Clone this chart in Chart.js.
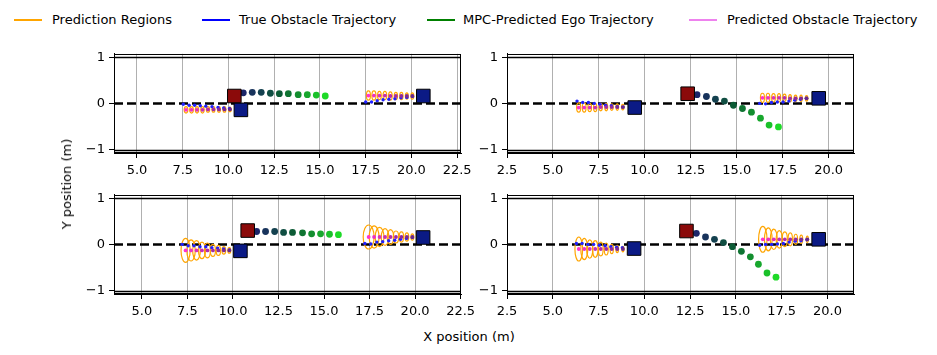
<!DOCTYPE html>
<html>
<head>
<meta charset="utf-8">
<script src="https://cdn.jsdelivr.net/npm/chart.js@4.4.1/dist/chart.umd.min.js"></script>
<style>
  html, body { margin: 0; padding: 0; background: #fff; }
  #fig { position: relative; width: 937px; height: 355px; overflow: hidden;
         font-family: "DejaVu Sans", sans-serif; color: #000; }
  #fig canvas { position: absolute; }
  .sw { position: absolute; top: 19px; width: 28px; height: 2px; }
  .lt { position: absolute; top: 12px; font-size: 13px; line-height: 16px; white-space: nowrap; }
  .ax { position: absolute; font-size: 13px; line-height: 16px; white-space: nowrap; }
</style>
</head>
<body>
<div id="fig">
  <div class="sw" style="left:14px;background:#ffa500"></div><div class="lt" style="left:52px">Prediction Regions</div>
  <div class="sw" style="left:202px;background:#0000ff"></div><div class="lt" style="left:239px">True Obstacle Trajectory</div>
  <div class="sw" style="left:427px;background:#008000"></div><div class="lt" style="left:463px">MPC-Predicted Ego Trajectory</div>
  <div class="sw" style="left:689px;background:#ee82ee"></div><div class="lt" style="left:727px">Predicted Obstacle Trajectory</div>

  <canvas id="tl"></canvas>
  <canvas id="tr"></canvas>
  <canvas id="bl"></canvas>
  <canvas id="br"></canvas>

  <div class="ax" style="left:67px;top:184px;transform:translate(-50%,-50%) rotate(-90deg)">Y position (m)</div>
  <div class="ax" style="left:469px;top:337px;transform:translate(-50%,-50%)">X position (m)</div>
</div>

<script>
/* ── DATA ── */
const xTicksLeft = [5, 7.5, 10, 12.5, 15, 17.5, 20, 22.5];
const xTicksRight = [2.5, 5, 7.5, 10, 12.5, 15, 17.5, 20];
const yTicks = [-1, 0, 1];
const laneBounds = [-1, 1];

// top-left
const tlEgoX = [10.81, 11.30, 11.79, 12.29, 12.78, 13.27, 13.81, 14.31, 14.80, 15.29];
const tlEgoY = [0.23, 0.24, 0.24, 0.22, 0.21, 0.21, 0.19, 0.19, 0.18, 0.16];
const tlEgoNow = [10.32, 0.16];
const tlObsNowX = [10.68, 20.65];
const tlObsNowY = [-0.14, 0.16];
const tlTrueX = [7.53, 7.85, 8.15, 8.46, 8.76, 9.10, 9.43, 9.74, 10.06, 17.50, 17.82, 18.13, 18.45, 18.77, 19.10, 19.43, 19.75, 20.06];
const tlTrueY = [-0.02, -0.04, -0.04, -0.05, -0.06, -0.07, -0.09, -0.10, -0.11, 0.03, 0.03, 0.06, 0.08, 0.09, 0.10, 0.12, 0.13, 0.15];
const tlPredX = [7.68, 7.98, 8.28, 8.58, 8.88, 9.18, 9.48, 9.78, 10.08, 17.65, 17.95, 18.25, 18.55, 18.85, 19.15, 19.45, 19.75, 20.05];
const tlPredY = [-0.14, -0.14, -0.14, -0.14, -0.13, -0.13, -0.13, -0.13, -0.13, 0.17, 0.17, 0.17, 0.17, 0.16, 0.16, 0.16, 0.16, 0.16];
const tlRegionRx = [0.10, 0.10, 0.09, 0.09, 0.09, 0.08, 0.08, 0.08, 0.07, 0.11, 0.11, 0.10, 0.10, 0.10, 0.09, 0.09, 0.08, 0.08];
const tlRegionRy = [0.07, 0.07, 0.07, 0.07, 0.06, 0.06, 0.06, 0.06, 0.05, 0.10, 0.10, 0.09, 0.09, 0.09, 0.08, 0.08, 0.07, 0.07];

// top-right
const trEgoX = [12.84, 13.35, 13.84, 14.33, 14.82, 15.31, 15.80, 16.29, 16.76, 17.27];
const trEgoY = [0.19, 0.15, 0.09, 0.05, -0.04, -0.11, -0.19, -0.32, -0.47, -0.51];
const trEgoNow = [12.33, 0.21];
const trObsNowX = [9.45, 19.46];
const trObsNowY = [-0.09, 0.11];
const trTrueX = [6.31, 6.62, 6.93, 7.25, 7.56, 7.87, 8.18, 8.50, 8.81, 16.25, 16.57, 16.89, 17.21, 17.52, 17.84, 18.16, 18.47, 18.79];
const trTrueY = [0.05, 0.02, 0.02, 0.00, -0.02, -0.04, -0.05, -0.07, -0.08, 0.00, -0.01, 0.02, 0.03, 0.03, 0.05, 0.07, 0.09, 0.11];
const trPredX = [6.40, 6.70, 7.00, 7.30, 7.60, 7.90, 8.20, 8.50, 8.80, 16.40, 16.70, 17.00, 17.30, 17.60, 17.90, 18.20, 18.50, 18.80];
const trPredY = [-0.09, -0.09, -0.09, -0.09, -0.08, -0.08, -0.08, -0.08, -0.08, 0.12, 0.12, 0.12, 0.12, 0.12, 0.11, 0.11, 0.11, 0.11];
const trRegionRx = [0.11, 0.10, 0.10, 0.09, 0.09, 0.08, 0.08, 0.07, 0.07, 0.11, 0.10, 0.10, 0.09, 0.09, 0.08, 0.08, 0.07, 0.07];
const trRegionRy = [0.10, 0.10, 0.09, 0.09, 0.08, 0.08, 0.07, 0.07, 0.06, 0.10, 0.10, 0.09, 0.09, 0.08, 0.08, 0.07, 0.07, 0.06];

// bottom-left
const blEgoX = [11.30, 11.79, 12.29, 12.78, 13.27, 13.82, 14.32, 14.81, 15.30, 15.79];
const blEgoY = [0.28, 0.28, 0.28, 0.26, 0.26, 0.25, 0.23, 0.23, 0.22, 0.21];
const blEgoNow = [10.81, 0.30];
const blObsNowX = [10.41, 20.44];
const blObsNowY = [-0.14, 0.15];
const blTrueX = [7.21, 7.54, 7.86, 8.19, 8.51, 8.84, 9.16, 9.49, 9.81, 17.24, 17.57, 17.90, 18.22, 18.55, 18.88, 19.20, 19.53, 19.85];
const blTrueY = [0.00, -0.03, -0.03, -0.05, -0.05, -0.07, -0.08, -0.10, -0.12, 0.02, 0.01, 0.05, 0.06, 0.08, 0.09, 0.11, 0.13, 0.15];
const blPredX = [7.40, 7.70, 8.00, 8.30, 8.60, 8.90, 9.20, 9.50, 9.80, 17.45, 17.75, 18.05, 18.35, 18.65, 18.95, 19.25, 19.55, 19.85];
const blPredY = [-0.13, -0.13, -0.13, -0.13, -0.13, -0.13, -0.13, -0.13, -0.13, 0.16, 0.16, 0.16, 0.16, 0.16, 0.16, 0.16, 0.16, 0.16];
const blRegionRx = [0.25, 0.23, 0.21, 0.19, 0.16, 0.14, 0.12, 0.10, 0.08, 0.30, 0.27, 0.24, 0.21, 0.18, 0.15, 0.12, 0.10, 0.08];
const blRegionRy = [0.26, 0.23, 0.21, 0.18, 0.16, 0.13, 0.11, 0.08, 0.06, 0.26, 0.24, 0.21, 0.18, 0.16, 0.13, 0.11, 0.09, 0.07];

// bottom-right
const brEgoX = [12.84, 13.34, 13.83, 14.32, 14.81, 15.30, 15.79, 16.23, 16.70, 17.19];
const brEgoY = [0.24, 0.16, 0.11, 0.04, -0.05, -0.15, -0.27, -0.43, -0.62, -0.71];
const brEgoNow = [12.30, 0.29];
const brObsNowX = [9.44, 19.52];
const brObsNowY = [-0.09, 0.11];
const brTrueX = [6.29, 6.60, 6.92, 7.23, 7.54, 7.86, 8.17, 8.49, 8.80, 16.30, 16.62, 16.95, 17.27, 17.59, 17.91, 18.24, 18.56, 18.88];
const brTrueY = [0.02, 0.02, 0.00, 0.00, -0.02, -0.03, -0.05, -0.06, -0.07, -0.02, 0.00, 0.00, 0.01, 0.02, 0.05, 0.07, 0.08, 0.10];
const brPredX = [6.42, 6.72, 7.02, 7.32, 7.62, 7.92, 8.22, 8.52, 8.83, 16.47, 16.77, 17.07, 17.37, 17.67, 17.97, 18.27, 18.57, 18.90];
const brPredY = [-0.10, -0.10, -0.10, -0.10, -0.10, -0.10, -0.10, -0.10, -0.10, 0.11, 0.11, 0.11, 0.11, 0.11, 0.11, 0.11, 0.11, 0.11];
const brRegionRx = [0.21, 0.19, 0.17, 0.15, 0.13, 0.11, 0.09, 0.07, 0.06, 0.23, 0.21, 0.19, 0.17, 0.14, 0.12, 0.10, 0.08, 0.06];
const brRegionRy = [0.26, 0.23, 0.20, 0.18, 0.15, 0.13, 0.10, 0.08, 0.06, 0.28, 0.25, 0.22, 0.19, 0.16, 0.14, 0.11, 0.09, 0.07];

/* ── LAYOUT ── */
const PLOT_W = 347, PLOT_H = 101;
const Y_AXIS_W = 50, X_AXIS_H = 30, PAD_T = 10, PAD_R = 25;
const tickFont = { family: "DejaVu Sans", size: 13 };

const panels = [
  { id: "tl", left: 114, top: 52, xMin: 3.743, xMax: 22.71, xTicks: xTicksLeft,
    egoX: tlEgoX, egoY: tlEgoY, egoNow: tlEgoNow, obsX: tlObsNowX, obsY: tlObsNowY,
    trueX: tlTrueX, trueY: tlTrueY, predX: tlPredX, predY: tlPredY, rx: tlRegionRx, ry: tlRegionRy },
  { id: "tr", left: 507, top: 52, xMin: 2.5, xMax: 21.38, xTicks: xTicksRight,
    egoX: trEgoX, egoY: trEgoY, egoNow: trEgoNow, obsX: trObsNowX, obsY: trObsNowY,
    trueX: trTrueX, trueY: trTrueY, predX: trPredX, predY: trPredY, rx: trRegionRx, ry: trRegionRy },
  { id: "bl", left: 114, top: 193, xMin: 3.47, xMax: 22.52, xTicks: xTicksLeft,
    egoX: blEgoX, egoY: blEgoY, egoNow: blEgoNow, obsX: blObsNowX, obsY: blObsNowY,
    trueX: blTrueX, trueY: blTrueY, predX: blPredX, predY: blPredY, rx: blRegionRx, ry: blRegionRy },
  { id: "br", left: 507, top: 193, xMin: 2.5, xMax: 21.45, xTicks: xTicksRight,
    egoX: brEgoX, egoY: brEgoY, egoNow: brEgoNow, obsX: brObsNowX, obsY: brObsNowY,
    trueX: brTrueX, trueY: brTrueY, predX: brPredX, predY: brPredY, rx: brRegionRx, ry: brRegionRy },
];

/* ── COLOURS ── */
function mix(a, b, t) {
  return "rgb(" + a.map((v, i) => Math.round(v + (b[i] - v) * t)).join(",") + ")";
}
function egoColour(i, n) {
  const t = i / (n - 1);
  const navy = [28, 38, 105], mid = [12, 92, 52], lime = [30, 218, 40];
  return t < 0.45 ? mix(navy, mid, t / 0.45) : mix(mid, lime, (t - 0.45) / 0.55);
}
function predColour(i) {
  const k = i % 9; // 9 predicted steps per obstacle
  return mix([255, 50, 205], [105, 40, 140], k / 8);
}

const pts = (xs, ys) => xs.map((x, i) => ({ x: x, y: ys[i] }));

/* ── PLUGIN: lane lines, prediction regions, frame ── */
function decor(p) {
  return {
    id: "decor_" + p.id,
    beforeDatasetsDraw(chart) {
      const { ctx, chartArea: a, scales: { x, y } } = chart;
      ctx.save();
      ctx.beginPath();
      ctx.rect(a.left, a.top, a.right - a.left, a.bottom - a.top);
      ctx.clip();

      laneBounds.forEach((v) => {
        const py = Math.round(y.getPixelForValue(v)) + 0.5;
        ctx.beginPath(); ctx.moveTo(a.left, py); ctx.lineTo(a.right, py);
        ctx.strokeStyle = "#000"; ctx.lineWidth = 1.3; ctx.stroke();
      });

      const p0 = y.getPixelForValue(0);
      ctx.beginPath(); ctx.moveTo(a.left, p0); ctx.lineTo(a.right, p0);
      ctx.setLineDash([9, 4]);
      ctx.strokeStyle = "#000"; ctx.lineWidth = 2.5; ctx.stroke();
      ctx.setLineDash([]);

      ctx.strokeStyle = "#ffa500";
      ctx.lineWidth = 1.2;
      p.predX.forEach((cx, i) => {
        const cy = p.predY[i];
        const px = x.getPixelForValue(cx), py = y.getPixelForValue(cy);
        const rxp = Math.abs(x.getPixelForValue(cx + p.rx[i]) - px);
        const ryp = Math.abs(y.getPixelForValue(cy + p.ry[i]) - py);
        ctx.beginPath();
        ctx.ellipse(px, py, rxp, ryp, 0, 0, Math.PI * 2);
        ctx.stroke();
      });
      ctx.restore();
    },
    afterDraw(chart) {
      const { ctx, chartArea: a } = chart;
      ctx.save();
      ctx.strokeStyle = "#000";
      ctx.lineWidth = 1;
      ctx.strokeRect(Math.round(a.left) + 0.5, Math.round(a.top) + 0.5,
                     Math.round(a.right - a.left) - 1, Math.round(a.bottom - a.top) - 1);
      ctx.restore();
    },
  };
}

/* ── BUILD ── */
panels.forEach((p) => {
  const cv = document.getElementById(p.id);
  const w = PLOT_W + Y_AXIS_W + PAD_R, h = PLOT_H + PAD_T + X_AXIS_H;
  cv.width = w; cv.height = h;
  cv.style.left = (p.left - Y_AXIS_W) + "px";
  cv.style.top = (p.top - PAD_T) + "px";
  cv.style.width = w + "px"; cv.style.height = h + "px";

  new Chart(cv.getContext("2d"), {
    type: "scatter",
    data: {
      datasets: [
        {
          label: "ego now", data: [{ x: p.egoNow[0], y: p.egoNow[1] }],
          pointStyle: "rect", pointRadius: 9.6, backgroundColor: "#8b0a0a",
          borderColor: "#000", borderWidth: 1, order: 0,
        },
        {
          label: "obstacles now", data: pts(p.obsX, p.obsY),
          pointStyle: "rect", pointRadius: 9.6, backgroundColor: "#0b1a85",
          borderColor: "#000", borderWidth: 1, order: 0,
        },
        {
          label: "MPC-Predicted Ego Trajectory", data: pts(p.egoX, p.egoY),
          pointRadius: 3.4, borderWidth: 0,
          backgroundColor: p.egoX.map((_, i) => egoColour(i, p.egoX.length)), order: 1,
        },
        {
          label: "Predicted Obstacle Trajectory", data: pts(p.predX, p.predY),
          pointRadius: 1.9, borderWidth: 0,
          backgroundColor: p.predX.map((_, i) => predColour(i)), order: 2,
        },
        {
          label: "True Obstacle Trajectory", data: pts(p.trueX, p.trueY),
          pointRadius: 1.7, borderWidth: 0, backgroundColor: "#2020ff", order: 3,
        },
      ],
    },
    options: {
      responsive: false,
      animation: false,
      devicePixelRatio: 1,
      layout: { padding: { top: PAD_T, right: PAD_R, left: 0, bottom: 0 } },
      plugins: { legend: { display: false }, tooltip: { enabled: false } },
      scales: {
        x: {
          type: "linear", min: p.xMin, max: p.xMax,
          afterBuildTicks: (s) => { s.ticks = p.xTicks.map((v) => ({ value: v })); },
          afterFit: (s) => { s.height = X_AXIS_H; },
          grid: { color: "#b0b0b0", lineWidth: 1, tickColor: "#000", tickLength: 5 },
          border: { display: true, color: "#000", width: 1 },
          ticks: { color: "#000", font: tickFont, padding: 5, maxRotation: 0, autoSkip: false,
                   callback: (v) => Number(v).toFixed(1) },
        },
        y: {
          type: "linear", min: -1.075, max: 1.075,
          afterBuildTicks: (s) => { s.ticks = yTicks.map((v) => ({ value: v })); },
          afterFit: (s) => { s.width = Y_AXIS_W; },
          grid: { drawOnChartArea: false, tickColor: "#000", tickLength: 5 },
          border: { display: true, color: "#000", width: 1 },
          ticks: { color: "#000", font: tickFont, padding: 4,
                   callback: (v) => (v < 0 ? "\u2212" + Math.abs(v) : String(v)) },
        },
      },
    },
    plugins: [decor(p)],
  });
});
</script>
</body>
</html>
